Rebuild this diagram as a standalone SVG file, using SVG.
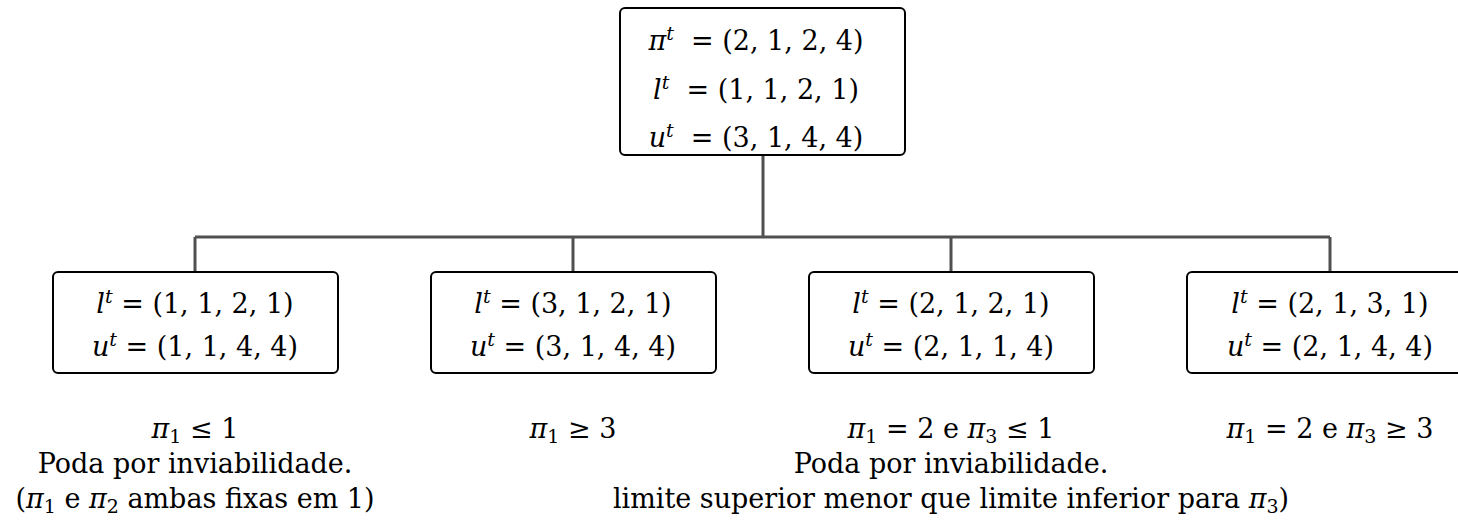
<svg xmlns="http://www.w3.org/2000/svg" width="1458" height="521" viewBox="0 0 1458 521">
<style>
text{font-family:"DejaVu Serif","Liberation Serif",serif;font-size:27px;fill:#000;text-anchor:middle}
.box{fill:#fff;stroke:#000;stroke-width:2}
.con{fill:none;stroke:#505050;stroke-width:3}
.i{font-style:italic}
.sup{font-style:italic;font-size:19px;baseline-shift:10px}
.sub{font-size:19px;baseline-shift:-5px}
</style>
<rect width="1458" height="521" fill="#fff"/>
<g id="connectors">
<path class="con" d="M763 155V237M195 237H1330M195 237V272M573 237V272M951 237V272M1330 237V272"/>
</g>
<g id="root">
<rect class="box" x="620" y="8" width="285" height="147" rx="5"/>
<text x="756" y="50"><tspan class="i">π</tspan><tspan class="sup">t</tspan>&#160; = (2, 1, 2, 4)</text>
<text x="756" y="99"><tspan class="i">l</tspan><tspan class="sup">t</tspan>&#160; = (1, 1, 2, 1)</text>
<text x="756" y="147"><tspan class="i">u</tspan><tspan class="sup">t</tspan>&#160; = (3, 1, 4, 4)</text>
</g>
<g id="n1">
<rect class="box" x="53" y="272" width="285" height="101" rx="5"/>
<text x="195" y="313"><tspan class="i">l</tspan><tspan class="sup">t</tspan> = (1, 1, 2, 1)</text>
<text x="195" y="356"><tspan class="i">u</tspan><tspan class="sup">t</tspan> = (1, 1, 4, 4)</text>
</g>
<g id="n2">
<rect class="box" x="431" y="272" width="285" height="101" rx="5"/>
<text x="573" y="313"><tspan class="i">l</tspan><tspan class="sup">t</tspan> = (3, 1, 2, 1)</text>
<text x="573" y="356"><tspan class="i">u</tspan><tspan class="sup">t</tspan> = (3, 1, 4, 4)</text>
</g>
<g id="n3">
<rect class="box" x="809" y="272" width="285" height="101" rx="5"/>
<text x="951" y="313"><tspan class="i">l</tspan><tspan class="sup">t</tspan> = (2, 1, 2, 1)</text>
<text x="951" y="356"><tspan class="i">u</tspan><tspan class="sup">t</tspan> = (2, 1, 1, 4)</text>
</g>
<g id="n4">
<rect class="box" x="1187" y="272" width="285" height="101" rx="5"/>
<text x="1330" y="313"><tspan class="i">l</tspan><tspan class="sup">t</tspan> = (2, 1, 3, 1)</text>
<text x="1330" y="356"><tspan class="i">u</tspan><tspan class="sup">t</tspan> = (2, 1, 4, 4)</text>
</g>
<g id="labels">
<text x="195" y="438"><tspan class="i">π</tspan><tspan class="sub">1</tspan> ≤ 1</text>
<text x="195" y="473">Poda por inviabilidade.</text>
<text x="195" y="508">(<tspan class="i">π</tspan><tspan class="sub">1</tspan> e <tspan class="i">π</tspan><tspan class="sub">2</tspan> ambas fixas em 1)</text>
<text x="573" y="438"><tspan class="i">π</tspan><tspan class="sub">1</tspan> ≥ 3</text>
<text x="951" y="438"><tspan class="i">π</tspan><tspan class="sub">1</tspan> = 2 e <tspan class="i">π</tspan><tspan class="sub">3</tspan> ≤ 1</text>
<text x="951" y="473">Poda por inviabilidade.</text>
<text x="951" y="508">limite superior menor que limite inferior para <tspan class="i">π</tspan><tspan class="sub">3</tspan>)</text>
<text x="1330" y="438"><tspan class="i">π</tspan><tspan class="sub">1</tspan> = 2 e <tspan class="i">π</tspan><tspan class="sub">3</tspan> ≥ 3</text>
</g>
</svg>
